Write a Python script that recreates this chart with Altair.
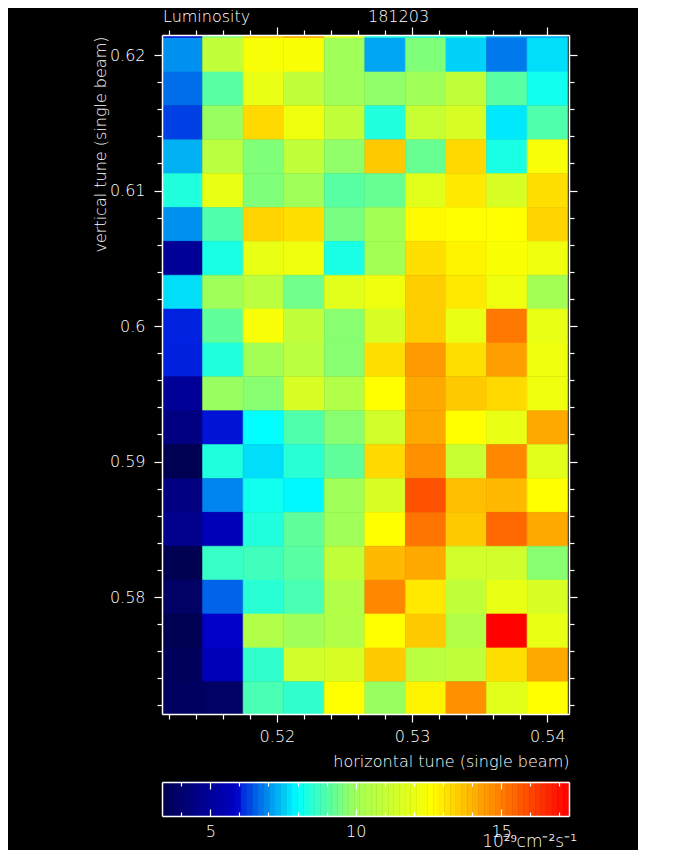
import altair as alt
import numpy as np
import pandas as pd

# ---------------- data ----------------
x_centers = [0.513, 0.516, 0.519, 0.522, 0.525, 0.528, 0.531, 0.534, 0.537, 0.540]
y_centers = [0.6225, 0.6200, 0.6175, 0.6150, 0.6125, 0.6100, 0.6075, 0.6050, 0.6025,
             0.6000, 0.5975, 0.5950, 0.5925, 0.5900, 0.5875, 0.5850, 0.5825, 0.5800,
             0.5775, 0.5750, 0.5725]
x_step = 0.003
y_step = 0.0025

lum_r00 = [5.97, 9.6, 13.6, 14.4, 12.2, 8.4, 8.4, 8.4, 7.2, 7.2]
lum_r01 = [7.0, 10.9, 12.4, 12.45, 10.0, 7.2, 9.6, 7.6, 6.8, 7.7]
lum_r02 = [6.7, 9.1, 12.0, 10.9, 10.0, 9.8, 10.0, 10.9, 9.1, 8.2]
lum_r03 = [6.3, 9.9, 13.3, 12.2, 10.9, 8.4, 11.1, 11.5, 7.8, 9.0]
lum_r04 = [7.3, 10.7, 9.6, 10.9, 9.8, 13.6, 9.3, 13.3, 8.3, 12.4]
lum_r05 = [8.4, 12.0, 9.6, 10.0, 9.1, 9.3, 11.8, 13.0, 11.5, 13.2]
lum_r06 = [7.0, 9.0, 13.4, 13.2, 9.5, 10.1, 12.7, 12.6, 12.6, 13.4]
lum_r07 = [4.9, 8.3, 12.0, 12.2, 8.3, 10.1, 13.2, 12.8, 12.5, 12.2]
lum_r08 = [7.7, 10.0, 10.7, 9.4, 11.8, 12.2, 13.5, 13.0, 12.2, 10.1]
lum_r09 = [6.02, 9.2, 12.4, 10.9, 9.7, 11.5, 13.5, 12.0, 15.1, 12.0]
lum_r10 = [6.0, 8.4, 10.1, 10.7, 9.7, 13.2, 14.5, 13.2, 14.4, 12.2]
lum_r11 = [4.9, 9.9, 9.7, 11.5, 10.5, 12.6, 14.2, 13.6, 13.3, 12.2]
lum_r12 = [4.4, 5.98, 8.0, 9.0, 9.7, 11.3, 14.2, 12.6, 12.0, 14.2]
lum_r13 = [3.4, 8.4, 7.7, 8.5, 9.2, 13.3, 14.65, 11.1, 14.8, 11.8]
lum_r14 = [4.4, 6.9, 8.2, 7.95, 10.0, 11.5, 15.8, 13.8, 13.9, 12.6]
lum_r15 = [4.65, 5.6, 8.4, 9.2, 10.0, 12.6, 15.2, 13.6, 15.4, 14.2]
lum_r16 = [3.3, 8.7, 8.8, 9.1, 10.9, 13.9, 14.2, 11.3, 11.3, 9.7]
lum_r17 = [3.8, 6.6, 8.5, 8.9, 10.5, 14.8, 13.0, 10.9, 12.0, 11.5]
lum_r18 = [3.4, 5.95, 10.5, 10.0, 10.5, 12.6, 13.6, 10.5, 17.3, 12.0]
lum_r19 = [3.6, 5.6, 8.6, 11.3, 11.5, 13.6, 10.7, 10.9, 13.2, 14.2]
lum_r20 = [3.7, 3.8, 8.9, 8.6, 12.6, 9.9, 12.8, 14.65, 11.8, 12.6]
lum_rows = [lum_r00, lum_r01, lum_r02, lum_r03, lum_r04, lum_r05, lum_r06, lum_r07,
            lum_r08, lum_r09, lum_r10, lum_r11, lum_r12, lum_r13, lum_r14, lum_r15,
            lum_r16, lum_r17, lum_r18, lum_r19, lum_r20]

x_tick_values = [round(0.512 + 0.002 * i, 3) for i in range(15)]
y_tick_values = [round(0.572 + 0.002 * i, 3) for i in range(25)]
cb_major = [5, 10, 15]
cb_minor = [4, 6, 7, 8, 9, 11, 12, 13, 14, 16, 17]

cmap_stops = [3.34, 5.95, 6.0, 8.0, 10.0, 12.6, 17.33]
cmap_colors = ["#000050", "#0000c8", "#0020e0", "#00ffff", "#a0ff58", "#ffff00", "#ff0000"]

title_text = "Luminosity"
run_text = "181203"
x_title = "horizontal tune (single beam)"
y_title = "vertical tune (single beam)"
unit_text = "10²⁹cm⁻²s⁻¹"

# ---------------- tables ----------------
recs = []
for yc, row in zip(y_centers, lum_rows):
    for xc, v in zip(x_centers, row):
        recs.append({"x0": xc - x_step / 2, "x1": xc + x_step / 2,
                     "y0": yc - y_step / 2, "y1": yc + y_step / 2, "lum": v})
df = pd.DataFrame(recs)

edges = np.linspace(cmap_stops[0], cmap_stops[-1], 73)
cbdf = pd.DataFrame({"v0": edges[:-1], "v1": edges[1:],
                     "vm": (edges[:-1] + edges[1:]) / 2, "b0": 0.0, "b1": 1.0})

FONT = "DejaVu Sans"
FW = 200
FS = 16

color_scale = alt.Scale(domain=cmap_stops, range=cmap_colors, interpolate="rgb", clamp=True)
xs = alt.Scale(domain=[0.5115, 0.5416], nice=False, zero=False)
ys = alt.Scale(domain=[0.57137, 0.62148], nice=False, zero=False)

major = "abs(datum.value*100 - round(datum.value*100)) < 0.01"
lab = "(" + major + ") ? format(datum.value, '.2~f') : ''"
tick_size = {"condition": {"test": major, "value": 8}, "value": 5}

common = dict(domainColor="white", domainWidth=1.5, tickColor="white", tickWidth=1.2,
              labelColor="white", labelFont=FONT, labelFontSize=FS, labelFontWeight=FW,
              titleColor="white", titleFont=FONT, titleFontSize=FS, titleFontWeight=FW,
              grid=False, zindex=1, labelOverlap=False, labelFlush=False, tickSize=tick_size)

ax_bottom = alt.Axis(orient="bottom", values=x_tick_values, labelExpr=lab, labelPadding=19,
                     labelBaseline="alphabetic", title=x_title, titleAnchor="end",
                     titleAlign="right", titleX=407, titleY=52, titleBaseline="alphabetic",
                     **common)
ax_left = alt.Axis(orient="left", values=y_tick_values, labelExpr=lab, labelPadding=9,
                   labelBaseline="middle", title=y_title, titleAngle=270, titleAlign="right",
                   titleAnchor="end", titleX=-57, titleY=1, titleBaseline="alphabetic",
                   **common)
ax_top = alt.Axis(orient="top", values=x_tick_values, labels=False, title=None, **common)
ax_right = alt.Axis(orient="right", values=y_tick_values, labels=False, title=None, **common)

base = alt.Chart(df)
heat = base.mark_rect(clip=True, strokeWidth=0.6).encode(
    x=alt.X("x0:Q", scale=xs, axis=ax_bottom), x2="x1:Q",
    y=alt.Y("y0:Q", scale=ys, axis=ax_left), y2="y1:Q",
    color=alt.Color("lum:Q", scale=color_scale, legend=None),
    stroke=alt.Color("lum:Q", scale=color_scale, legend=None),
)
mirror = base.mark_rect(clip=True, opacity=0).encode(
    x=alt.X("x0:Q", scale=xs, axis=ax_top), x2="x1:Q",
    y=alt.Y("y0:Q", scale=ys, axis=ax_right), y2="y1:Q",
)
txt_kw = dict(baseline="alphabetic", color="white", font=FONT, fontSize=FS, fontWeight=FW)
t1 = alt.Chart(pd.DataFrame({"t": [title_text]})).mark_text(align="left", **txt_kw).encode(
    text="t:N", x=alt.value(1), y=alt.value(-13.4))
t2 = alt.Chart(pd.DataFrame({"t": [run_text]})).mark_text(align="left", **txt_kw).encode(
    text="t:N", x=alt.value(206), y=alt.value(-13.4))

heat_panel = alt.layer(heat, mirror, t1, t2).resolve_axis(
    x="independent", y="independent").properties(width=407, height=679)

# ---------------- colour bar ----------------
cxs = alt.Scale(domain=[cmap_stops[0], cmap_stops[-1]], nice=False, zero=False)
cys = alt.Scale(domain=[0, 1], nice=False, zero=False)
cb_common = dict(domainColor="white", domainWidth=1.5, tickColor="white", tickWidth=1.2,
                 labelColor="white", labelFont=FONT, labelFontSize=FS, labelFontWeight=FW,
                 grid=False, zindex=1, title=None, labelFlush=False)

cax_bottom = alt.Axis(orient="bottom", values=cb_major, format="d", ticks=False,
                      labelPadding=20, labelBaseline="alphabetic", **cb_common)
cax_left = alt.Axis(orient="left", ticks=False, labels=False, **cb_common)
cax_top = alt.Axis(orient="top", ticks=False, labels=False, **cb_common)
cax_right = alt.Axis(orient="right", ticks=False, labels=False, **cb_common)


def tick_axis(orient, vals, size):
    return alt.Axis(orient=orient, values=vals, tickSize=size, offset=-size, domain=False,
                    labels=False, **cb_common)


cbase = alt.Chart(cbdf)
bands = cbase.mark_rect(strokeWidth=0.6).encode(
    x=alt.X("v0:Q", scale=cxs, axis=cax_bottom), x2="v1:Q",
    y=alt.Y("b0:Q", scale=cys, axis=cax_left), y2="b1:Q",
    color=alt.Color("vm:Q", scale=color_scale, legend=None),
    stroke=alt.Color("vm:Q", scale=color_scale, legend=None),
)
frame2 = cbase.mark_rect(opacity=0).encode(
    x=alt.X("v0:Q", scale=cxs, axis=cax_top), x2="v1:Q",
    y=alt.Y("b0:Q", scale=cys, axis=cax_right), y2="b1:Q")
tk_layers = []
for orient, vals, size in [("top", cb_major, 7), ("top", cb_minor, 4),
                           ("bottom", cb_major, 7), ("bottom", cb_minor, 4)]:
    tk_layers.append(cbase.mark_rect(opacity=0).encode(
        x=alt.X("v0:Q", scale=cxs, axis=tick_axis(orient, vals, size)), x2="v1:Q",
        y=alt.Y("b0:Q", scale=cys, axis=None), y2="b1:Q"))
unit = alt.Chart(pd.DataFrame({"t": [unit_text]})).mark_text(
    align="right", baseline="alphabetic", color="white", font=FONT, fontSize=17,
    fontWeight=FW).encode(text="t:N", x=alt.value(415), y=alt.value(65))

cb_panel = alt.layer(bands, frame2, *tk_layers, unit).resolve_axis(
    x="independent", y="independent").properties(width=407, height=34)

chart = alt.vconcat(heat_panel, cb_panel, spacing=12).properties(
    background="black",
    padding={"left": 84, "top": 0, "right": 60, "bottom": 0},
).configure_view(stroke=None)

chart.save("out.html", embed_options={"renderer": "svg", "actions": False})
